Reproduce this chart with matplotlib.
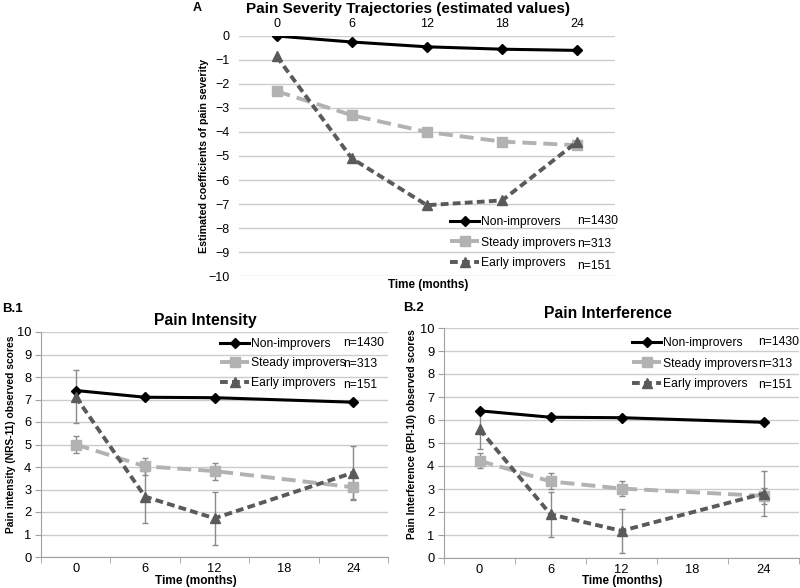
import matplotlib
matplotlib.use('Agg')
import matplotlib.pyplot as plt

plt.rcParams['font.family'] = ['Liberation Sans', 'DejaVu Sans']

# time points (months)
months = [0, 6, 12, 18, 24]
months_obs = [0, 6, 12, 24]
month_ticks = [0, 6, 12, 18, 24]

groups = ['Non-improvers', 'Steady improvers', 'Early improvers']
group_n = ['n=1430', 'n=313', 'n=151']

# A: estimated coefficients of pain severity
est_non = [0, -0.25, -0.45, -0.55, -0.6]
est_steady = [-2.3, -3.3, -4.0, -4.4, -4.55]
est_early = [-0.85, -5.1, -7.05, -6.85, -4.4]

# B.1: pain intensity (NRS-11), observed
int_non = [7.4, 7.1, 7.08, 6.88]
int_steady = [5.0, 4.03, 3.82, 3.1]
int_steady_err = [0.37, 0.38, 0.38, 0.5]
int_early = [7.12, 2.68, 1.72, 3.75]
int_early_err = [1.18, 1.15, 1.18, 1.2]

# B.2: pain interference (BPI-10), observed
intf_non = [6.4, 6.12, 6.1, 5.9]
intf_steady = [4.23, 3.33, 3.02, 2.7]
intf_steady_err = [0.33, 0.35, 0.32, 0.35]
intf_early = [5.6, 1.9, 1.18, 2.8]
intf_early_err = [0.85, 0.97, 0.96, 0.97]

W, H = 800, 588

styles = [
    dict(color='black', lw=2.2, marker='D', ms=5, ls='-'),
    dict(color='#b2b2b2', lw=2.8, marker='s', ms=7, dashes=(3.6, 1.8)),
    dict(color='#5a5a5a', lw=2.8, marker='^', ms=7, dashes=(2.0, 1.1)),
]
grid_col = '#cccccc'
err_col = '#8a8a8a'


def px_axes(x0, y0, x1, y1):
    return fig.add_axes([x0 / W, 1 - y1 / H, (x1 - x0) / W, (y1 - y0) / H])


def ftext(x, y, s, **kw):
    fig.text(x / W, 1 - y / H, s, **kw)


def add_legend(ax, x_px, y_px, n_x, n_rows, spacing=0.75):
    ax.legend(loc='upper left', bbox_to_anchor=(x_px / W, 1 - y_px / H),
              bbox_transform=fig.transFigure, frameon=False, fontsize=8.7,
              handlelength=2.4, handletextpad=0.2, labelspacing=spacing,
              borderpad=0, borderaxespad=0)
    for s, ny in zip(group_n, n_rows):
        ftext(n_x, ny, s, fontsize=8.7, va='center', ha='left')


fig = plt.figure(figsize=(8, 5.88), dpi=100)

# ---------------- panel A ----------------
axA = px_axes(239, 36, 615, 276)
series = [est_non, est_steady, est_early]
for vals, lab, st in zip(series, groups, styles):
    axA.plot(months, vals, label=lab, zorder=3, **st)
axA.set_xlim(-3, 27)
axA.set_ylim(-10, 0)
axA.set_yticks(range(-10, 1))
axA.set_xticks(month_ticks)
axA.xaxis.tick_top()
axA.tick_params(axis='both', length=0, labelsize=9)
axA.tick_params(axis='x', pad=4)
axA.tick_params(axis='y', pad=7)
axA.grid(axis='y', color=grid_col, lw=1)
axA.set_axisbelow(True)
for sp in axA.spines.values():
    sp.set_visible(False)
add_legend(axA, 450, 216, 577, [221, 244, 266], spacing=0.72)
ftext(204, 156, 'Estimated coefficients of pain severity', rotation=90,
      fontsize=7.7, fontweight='bold', ha='center', va='center')
ftext(428, 285, 'Time (months)', fontsize=8.4, fontweight='bold',
      ha='center', va='center')
ftext(408, 9, 'Pain Severity Trajectories (estimated values)', fontsize=11,
      fontweight='bold', ha='center', va='center')
ftext(193, 8, 'A', fontsize=9, fontweight='bold', ha='left', va='center')


def panel_b(ax, non, steady, steady_err, early, early_err):
    ax.errorbar(months_obs, steady, yerr=steady_err, fmt='none',
                ecolor=err_col, elinewidth=1, capsize=2.5, capthick=1,
                zorder=2)
    ax.errorbar(months_obs, early, yerr=early_err, fmt='none',
                ecolor=err_col, elinewidth=1, capsize=2.5, capthick=1,
                zorder=2)
    for vals, lab, st in zip([non, steady, early], groups, styles):
        ax.plot(months_obs, vals, label=lab, zorder=3, **st)
    ax.set_xlim(-3, 27)
    ax.set_ylim(0, 10)
    ax.set_yticks(range(0, 11))
    ax.set_xticks(month_ticks)
    ax.set_xticks([-3, 3, 9, 15, 21, 27], minor=True)
    ax.tick_params(axis='x', which='major', length=0, labelsize=9.3, pad=4)
    ax.tick_params(axis='x', which='minor', length=4, color='#a0a0a0')
    ax.tick_params(axis='y', length=4, color='#a0a0a0', labelsize=9.3, pad=3)
    ax.grid(axis='y', color=grid_col, lw=1)
    ax.set_axisbelow(True)
    for k in ['top', 'right']:
        ax.spines[k].set_visible(False)
    for k in ['left', 'bottom']:
        ax.spines[k].set_color('#a0a0a0')


# ---------------- panel B.1 ----------------
axB1 = px_axes(41, 332, 388, 557)
panel_b(axB1, int_non, int_steady, int_steady_err, int_early, int_early_err)
add_legend(axB1, 220, 338, 343, [343, 364, 385], spacing=0.62)
ftext(11, 434, 'Pain intensity (NRS-11) observed scores', rotation=90,
      fontsize=7.4, fontweight='bold', ha='center', va='center')
ftext(196, 581, 'Time (months)', fontsize=8.6, fontweight='bold',
      ha='center', va='center')
ftext(205, 320, 'Pain Intensity', fontsize=11.3, fontweight='bold',
      ha='center', va='center')
ftext(2, 309, 'B.1', fontsize=9.5, fontweight='bold', ha='left', va='center')

# ---------------- panel B.2 ----------------
axB2 = px_axes(444, 328, 799, 558)
panel_b(axB2, intf_non, intf_steady, intf_steady_err, intf_early, intf_early_err)
add_legend(axB2, 632, 337, 758, [342, 364, 385], spacing=0.72)
ftext(412, 434, 'Pain Interference (BPI-10) observed scores', rotation=90,
      fontsize=7.4, fontweight='bold', ha='center', va='center')
ftext(622, 581, 'Time (months)', fontsize=8.4, fontweight='bold',
      ha='center', va='center')
ftext(608, 314, 'Pain Interference', fontsize=11.3, fontweight='bold',
      ha='center', va='center')
ftext(403, 308, 'B.2', fontsize=9.5, fontweight='bold', ha='left', va='center')

fig.savefig('out.png', dpi=100)
